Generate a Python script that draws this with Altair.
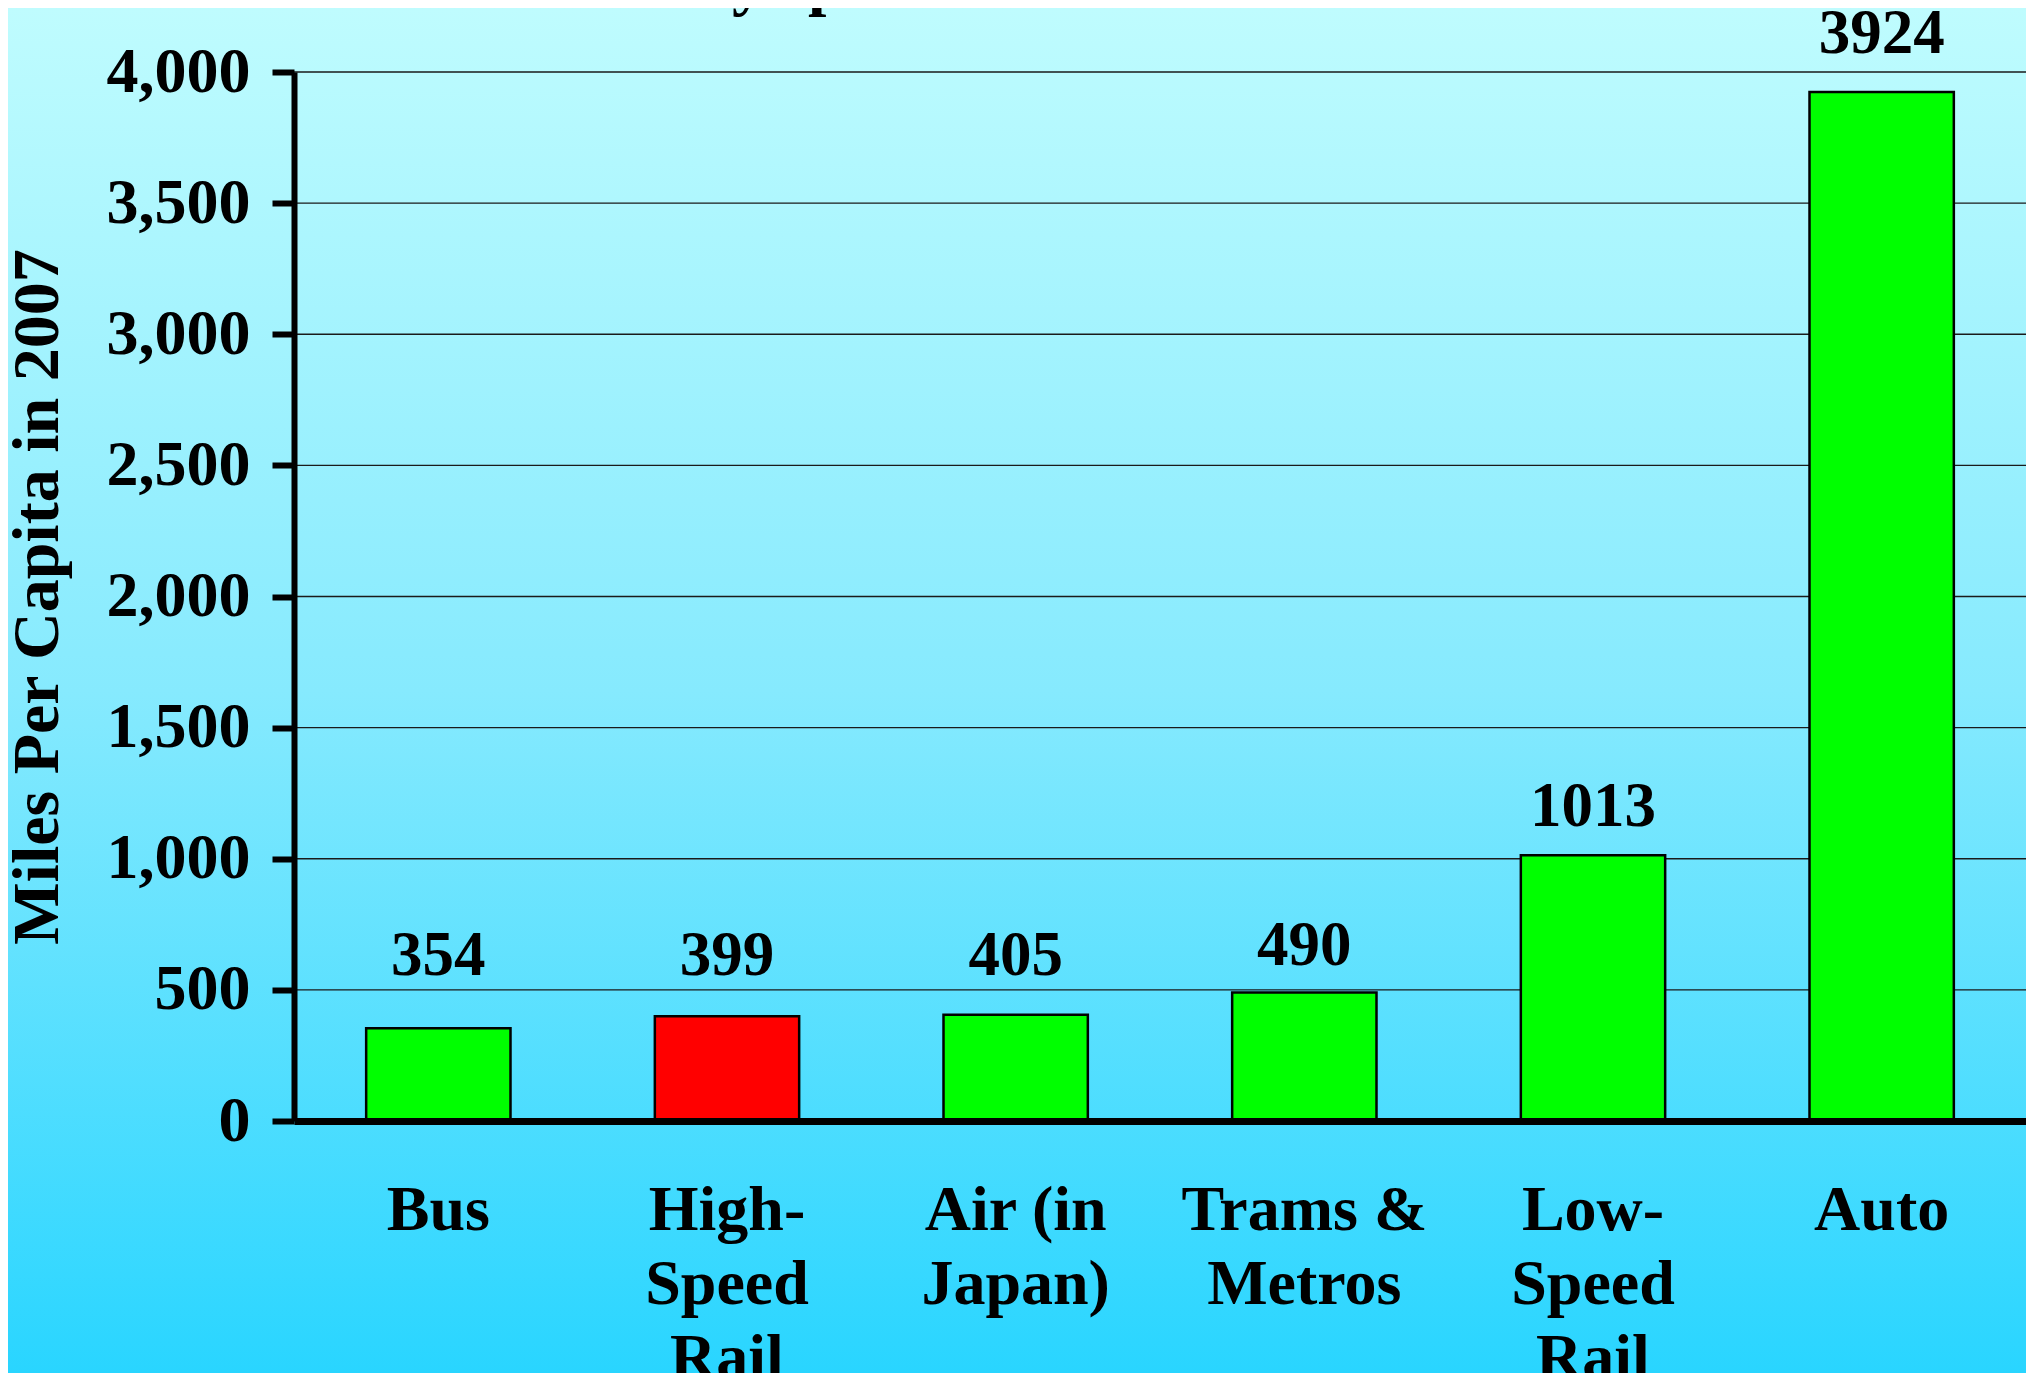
import altair as alt
import pandas as pd

# ---- data ----
categories = ["Bus", "High-|Speed|Rail", "Air (in|Japan)", "Trams &|Metros", "Low-|Speed|Rail", "Auto"]
values = [354, 399, 405, 490, 1013, 3924]
highlight = "High-|Speed|Rail"
y_ticks = [0, 500, 1000, 1500, 2000, 2500, 3000, 3500, 4000]
grid_values = [500, 1000, 1500, 2000, 2500, 3000, 3500, 4000]
y_title = "Miles Per Capita in 2007"
title_left = "Mobility"
title_right = "per Mode"

df = pd.DataFrame({"mode": categories, "miles": values})
grid_df = pd.DataFrame({"miles": grid_values})

W, H = 1732, 1049
PAD_L, PAD_T, PAD_R, PAD_B = 286, 64, 0, 252
FONT = "Liberation Serif"

xscale = alt.Scale(domain=categories, paddingInner=0.5, paddingOuter=0.25)
yscale = alt.Scale(domain=[0, 4000], nice=False)

y_axis = alt.Axis(
    values=y_ticks, labelExpr="format(datum.value, ',')", title=y_title,
    titleFont=FONT, titleFontSize=66, titleFontWeight="bold", titleColor="black",
    titlePadding=35,
    labelFont=FONT, labelFontSize=64, labelFontWeight="bold", labelColor="black",
    labelPadding=22, tickSize=22, tickWidth=6, tickColor="black",
    domainWidth=6, domainColor="black", grid=False, zindex=1,
)
x_axis = alt.Axis(
    title=None, labelExpr="split(datum.label, '|')", labelAngle=0,
    labelFont=FONT, labelFontSize=64, labelFontWeight="bold", labelColor="black",
    labelLineHeight=74, labelPadding=57, labelBaseline="top",
    ticks=False, tickSize=0, domainWidth=7, domainColor="black",
    grid=False, zindex=1, labelLimit=400,
)

bg = alt.Chart(pd.DataFrame({"k": [0]})).mark_rect(
    fill=alt.Gradient(
        gradient="linear",
        stops=[alt.GradientStop(color="#BFFCFE", offset=0),
               alt.GradientStop(color="#86EAFE", offset=0.5),
               alt.GradientStop(color="#29D5FF", offset=1)],
        x1=0, x2=0, y1=0, y2=1,
    ),
    strokeWidth=0,
).encode(
    x=alt.value(-PAD_L), x2=alt.value(W + 10),
    y=alt.value(-PAD_T), y2=alt.value(H + PAD_B),
)

grid = alt.Chart(grid_df).mark_rule(color="#1a1a1a", strokeWidth=1.3).encode(
    y=alt.Y("miles:Q", scale=yscale, axis=y_axis)
)

bars = alt.Chart(df).mark_bar(stroke="black", strokeWidth=2.5).encode(
    x=alt.X("mode:N", sort=categories, scale=xscale, axis=x_axis),
    y=alt.Y("miles:Q", scale=yscale, axis=y_axis),
    color=alt.condition(alt.datum.mode == highlight, alt.value("#FF0000"), alt.value("#00FF00")),
)

labels = alt.Chart(df).transform_calculate(
    lab="max(datum.miles * 1.0126, 458)"
).mark_text(
    font=FONT, fontSize=63, fontWeight="bold", color="black",
    align="center", baseline="alphabetic", dy=-26,
).encode(
    x=alt.X("mode:N", sort=categories, scale=xscale, axis=x_axis),
    y=alt.Y("lab:Q", scale=yscale, axis=y_axis),
    text=alt.Text("miles:Q"),
)

t1 = alt.Chart(pd.DataFrame({"t": [title_left]})).mark_text(
    font=FONT, fontSize=66, fontWeight="bold", color="black", align="right", baseline="alphabetic"
).encode(x=alt.value(471), y=alt.value(-69), text="t:N")
t2 = alt.Chart(pd.DataFrame({"t": [title_right]})).mark_text(
    font=FONT, fontSize=66, fontWeight="bold", color="black", align="left", baseline="alphabetic"
).encode(x=alt.value(514), y=alt.value(-69), text="t:N")

chart = alt.layer(bg, grid, bars, labels, t1, t2).properties(
    width=W, height=H,
    padding={"left": PAD_L, "top": PAD_T, "right": PAD_R, "bottom": PAD_B},
    autosize=alt.AutoSizeParams(type="none"),
).configure_view(stroke=None).configure(background="#BFFCFE")

chart.save("out.html", embed_options={"renderer": "svg", "actions": False})
